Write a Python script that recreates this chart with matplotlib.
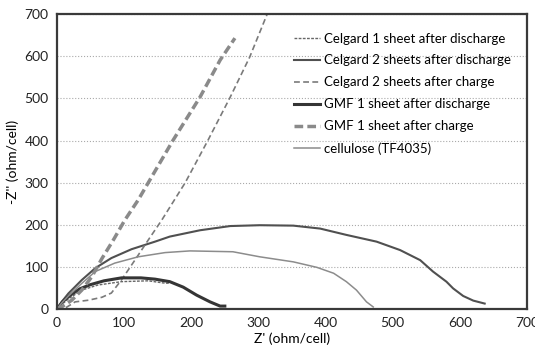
import matplotlib
matplotlib.use('Agg')
import matplotlib.pyplot as plt

plt.rcParams['font.family'] = ['Lato', 'DejaVu Sans']

# Nyquist data (Z', -Z'')
c1_dis_x = [0, 8, 17, 37, 61, 96, 136, 158, 168]
c1_dis_y = [0, 12, 24, 45, 57, 65, 67, 62, 61]

c2_dis_x = [0, 8, 17, 37, 57, 81, 111, 146, 168, 213, 258, 302, 352, 392, 431, 476,
            511, 541, 560, 580, 590, 605, 620, 637]
c2_dis_y = [0, 19, 37, 69, 97, 121, 142, 160, 172, 187, 197, 199, 198, 191, 176, 160,
            140, 116, 89, 65, 49, 31, 20, 13]

c2_chg_x = [0, 12, 27, 47, 67, 81, 96, 116, 136, 156, 191, 225, 258, 287, 313]
c2_chg_y = [0, 2, 17, 21, 28, 38, 69, 116, 164, 211, 300, 401, 503, 598, 700]

gmf_dis_x = [0, 8, 20, 34, 50, 70, 96, 125, 146, 168, 188, 208, 228, 243, 250]
gmf_dis_y = [0, 17, 33, 48, 58, 67, 74, 74, 71, 65, 52, 33, 17, 7, 7]

gmf_chg_x = [0, 7, 22, 37, 52, 67, 84, 101, 121, 136, 173, 213, 243, 265]
gmf_chg_y = [0, 5, 21, 45, 77, 120, 164, 211, 259, 300, 401, 503, 591, 643]

cel_x = [0, 8, 17, 37, 57, 86, 121, 161, 198, 262, 302, 352, 387, 412, 431, 446, 461, 471]
cel_y = [0, 16, 31, 61, 89, 109, 124, 134, 138, 136, 124, 112, 99, 85, 65, 45, 17, 5]

labels = ['Celgard 1 sheet after discharge', 'Celgard 2 sheets after discharge',
          'Celgard 2 sheets after charge', 'GMF 1 sheet after discharge',
          'GMF 1 sheet after charge', 'cellulose (TF4035)']

fig = plt.figure(figsize=(5.35, 3.54), dpi=100)
ax = fig.add_axes([0.1065, 0.127, 0.8785, 0.833])

ax.plot(c1_dis_x, c1_dis_y, color='#666666', lw=1.0, dashes=(2, 1), label=labels[0])
ax.plot(c2_dis_x, c2_dis_y, color='#505050', lw=1.5, label=labels[1])
ax.plot(c2_chg_x, c2_chg_y, color='#7a7a7a', lw=1.2, dashes=(3.5, 2), label=labels[2])
ax.plot(gmf_dis_x, gmf_dis_y, color='#353535', lw=2.2, label=labels[3])
ax.plot(gmf_chg_x, gmf_chg_y, color='#8a8a8a', lw=2.5, dashes=(2.5, 1.2), label=labels[4])
ax.plot(cel_x, cel_y, color='#8c8c8c', lw=1.1, label=labels[5])

ax.set_xlim(0, 700)
ax.set_ylim(0, 700)
ax.set_xticks(range(0, 701, 100))
ax.set_yticks(range(0, 701, 100))
ax.tick_params(length=0, labelsize=10, colors='#222222', pad=6)
ax.yaxis.grid(True, color='#aaaaaa', ls=':', lw=0.8)
for s in ax.spines.values():
    s.set_color('#3a3a3a')
    s.set_linewidth(1.6)

ax.set_xlabel("Z' (ohm/cell)", fontsize=10, labelpad=2)
ax.set_ylabel("-Z'' (ohm/cell)", fontsize=10, labelpad=4)

ax.legend(loc='upper left', bbox_to_anchor=(0.49, 0.96), frameon=False, fontsize=9.5,
          handlelength=2.0, handletextpad=0.3, labelspacing=0.75, borderpad=0)

fig.savefig('out.png', dpi=100)
